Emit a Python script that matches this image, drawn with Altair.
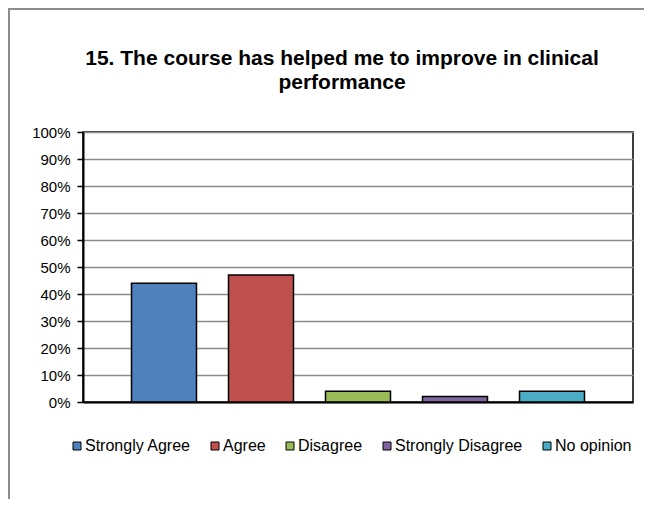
import altair as alt
import pandas as pd

categories = ["Strongly Agree", "Agree", "Disagree", "Strongly Disagree", "No opinion"]
values = [0.44, 0.47, 0.04, 0.02, 0.04]
colors = ["#4F81BD", "#C0504D", "#9BBB59", "#8064A2", "#4BACC6"]
y_ticks = [i / 10 for i in range(11)]
title_lines = ["15. The course has helped me to improve in clinical", "performance"]

df = pd.DataFrame({"category": categories, "value": values})
FONT = "Liberation Sans"

bars = alt.Chart(df).mark_bar(stroke="black", strokeWidth=1.5).encode(
    x=alt.X("category:N", sort=categories,
            scale=alt.Scale(paddingInner=0.33, paddingOuter=0.5),
            axis=alt.Axis(title=None, labels=False, ticks=False, domain=True,
                          domainColor="black", domainWidth=2, grid=False)),
    y=alt.Y("value:Q", scale=alt.Scale(domain=[0, 1], nice=False, zero=True),
            axis=alt.Axis(title=None, values=y_ticks, format=".0%",
                          labelFont=FONT, labelFontSize=15, labelColor="black",
                          labelPadding=7, tickSize=6, tickColor="black", tickWidth=1.5,
                          domainColor="black", domainWidth=2,
                          grid=True, gridColor="#8c8c8c", gridWidth=1.5)),
    color=alt.Color("category:N", sort=categories,
                    scale=alt.Scale(domain=categories, range=colors),
                    legend=alt.Legend(title=None, orient="none", direction="horizontal",
                                      columns=5, legendX=-14, legendY=306, padding=0,
                                      symbolType="square", symbolSize=64,
                                      symbolStrokeColor="black", symbolStrokeWidth=1,
                                      labelFont=FONT, labelFontSize=16, labelColor="black",
                                      labelOffset=0, columnPadding=16)),
)

frame_df = pd.DataFrame({"a": [0]})
left_line = alt.Chart(frame_df).mark_rule(color="#8c8c8c", strokeWidth=2).encode(
    x=alt.value(-74), y=alt.value(-124), y2=alt.value(380))
top_line = alt.Chart(frame_df).mark_rule(color="#8c8c8c", strokeWidth=2).encode(
    x=alt.value(-75), x2=alt.value(561), y=alt.value(-123))

chart = alt.layer(bars, left_line, top_line).properties(
    width=550, height=270,
    title=alt.TitleParams(text=title_lines, font=FONT, fontSize=21, fontWeight="bold",
                          color="black", lineHeight=24, anchor="middle", frame="group",
                          dx=-16, offset=-86),
    autosize=alt.AutoSizeParams(type="none"),
    padding={"left": 75, "top": 124, "right": 11, "bottom": 97},
).configure_view(stroke="black", strokeWidth=1.5)

chart.save("out.html", embed_options={"renderer": "svg", "actions": False})
